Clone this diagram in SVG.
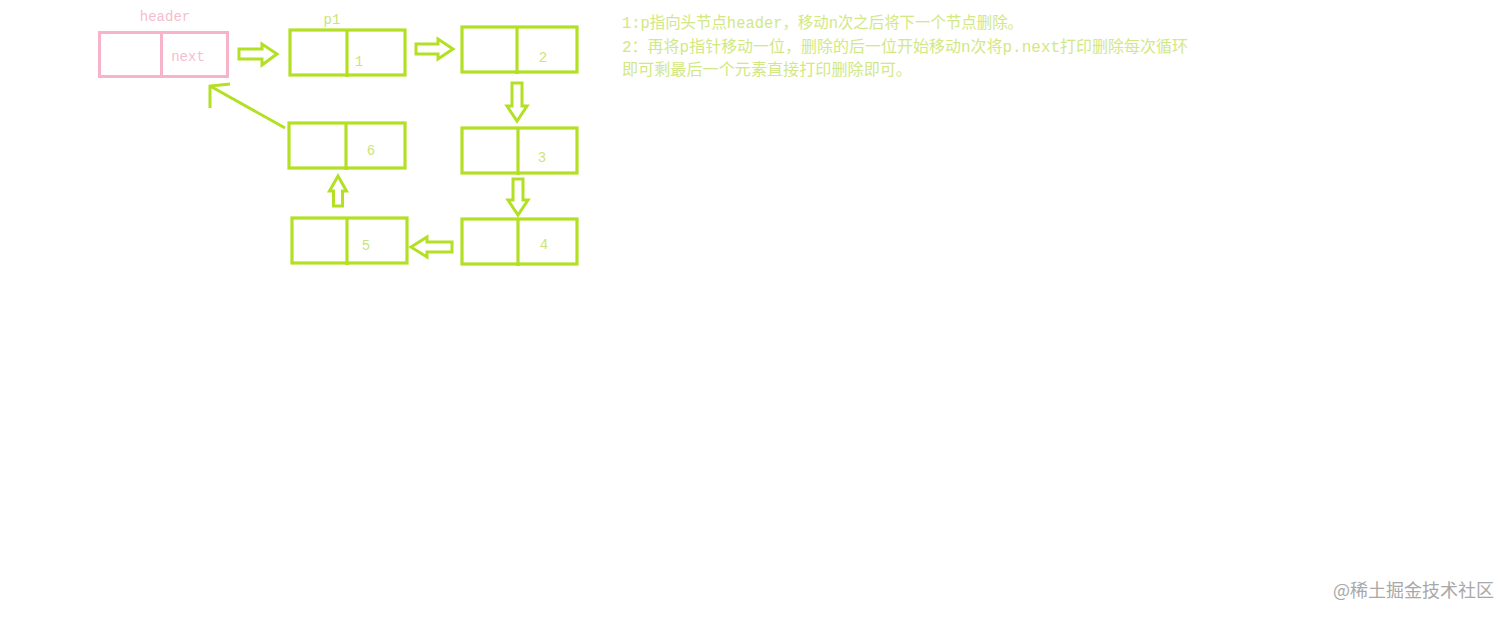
<svg xmlns="http://www.w3.org/2000/svg" width="1512" height="619" viewBox="0 0 1512 619">
<style>
.g{fill:none;stroke:#b3e024;stroke-width:3.2}
.p{fill:none;stroke:#f7b3c9;stroke-width:3}
.ga{fill:none;stroke:#b3e024;stroke-width:3;stroke-linejoin:miter}
.num{font-family:"Liberation Mono","Noto Sans CJK SC",monospace;font-size:14px;fill:#c9e57a;text-anchor:middle}
.pt{font-family:"Liberation Mono","Noto Sans CJK SC",monospace;font-size:14px;fill:#f7bccf;text-anchor:middle}
.note{font-family:"Liberation Mono","Noto Sans CJK SC",monospace;font-size:16px;fill:#d2e884}
.wm{font-family:"Noto Sans CJK SC",sans-serif;font-size:18px;fill:#a8a8a8}
</style>
<rect width="1512" height="619" fill="#ffffff"/>
<g id="header">
<rect class="p" x="99.5" y="32.5" width="128" height="44"/>
<line class="p" x1="161.5" y1="32.5" x2="161.5" y2="76.5"/>
<text class="pt" x="165" y="21">header</text>
<text class="pt" x="188" y="61">next</text>
</g>
<g id="node1">
<rect class="g" x="290" y="30" width="115" height="45"/>
<line class="g" x1="347" y1="30" x2="347" y2="77"/>
<text class="num" x="332" y="24">p1</text>
<text class="num" x="359" y="66">1</text>
</g>
<g id="node2">
<rect class="g" x="462" y="27" width="115" height="45"/>
<line class="g" x1="517" y1="27" x2="517" y2="74"/>
<text class="num" x="543" y="62">2</text>
</g>
<g id="node3">
<rect class="g" x="462" y="128" width="115" height="45"/>
<line class="g" x1="518" y1="128" x2="518" y2="175"/>
<text class="num" x="542" y="162">3</text>
</g>
<g id="node4">
<rect class="g" x="462" y="219" width="115" height="45"/>
<line class="g" x1="518" y1="219" x2="518" y2="266"/>
<text class="num" x="544" y="249">4</text>
</g>
<g id="node5">
<rect class="g" x="292" y="218" width="115" height="45"/>
<line class="g" x1="347" y1="218" x2="347" y2="265"/>
<text class="num" x="366" y="250">5</text>
</g>
<g id="node6">
<rect class="g" x="289" y="123" width="116" height="45"/>
<line class="g" x1="346" y1="123" x2="346" y2="170"/>
<text class="num" x="371" y="155">6</text>
</g>
<g id="connectors">
<polygon class="ga" points="239,49 262,49 262,44 277,54 262,65 262,59 239,59"/>
<polygon class="ga" points="416,44 438,44 438,39 453,49 438,59 438,54 416,54"/>
<polygon class="ga" points="512,83 522,83 522,106 527,106 517,121 507,106 512,106"/>
<polygon class="ga" points="513,179 523,179 523,200 528,200 518,215 508,200 513,200"/>
<polygon class="ga" points="452,242 427,242 427,237 411,247 427,257 427,252 452,252"/>
<polygon class="ga" points="333.5,206 342.5,206 342.5,191 346.5,191 338,176 329.5,191 333.5,191"/>
<polyline class="ga" points="285,128 210,86"/>
<polyline class="ga" points="210,108 210,86 230,84"/>
</g>
<g id="notes">
<text class="note" x="622" y="28" textLength="401" lengthAdjust="spacingAndGlyphs">1:p指向头节点header，移动n次之后将下一个节点删除。</text>
<text class="note" x="622" y="52" textLength="566" lengthAdjust="spacingAndGlyphs">2：再将p指针移动一位，删除的后一位开始移动n次将p.next打印删除每次循环</text>
<text class="note" x="622" y="75" textLength="290" lengthAdjust="spacingAndGlyphs">即可剩最后一个元素直接打印删除即可。</text>
</g>
<text class="wm" x="1333" y="597">@稀土掘金技术社区</text>
</svg>
